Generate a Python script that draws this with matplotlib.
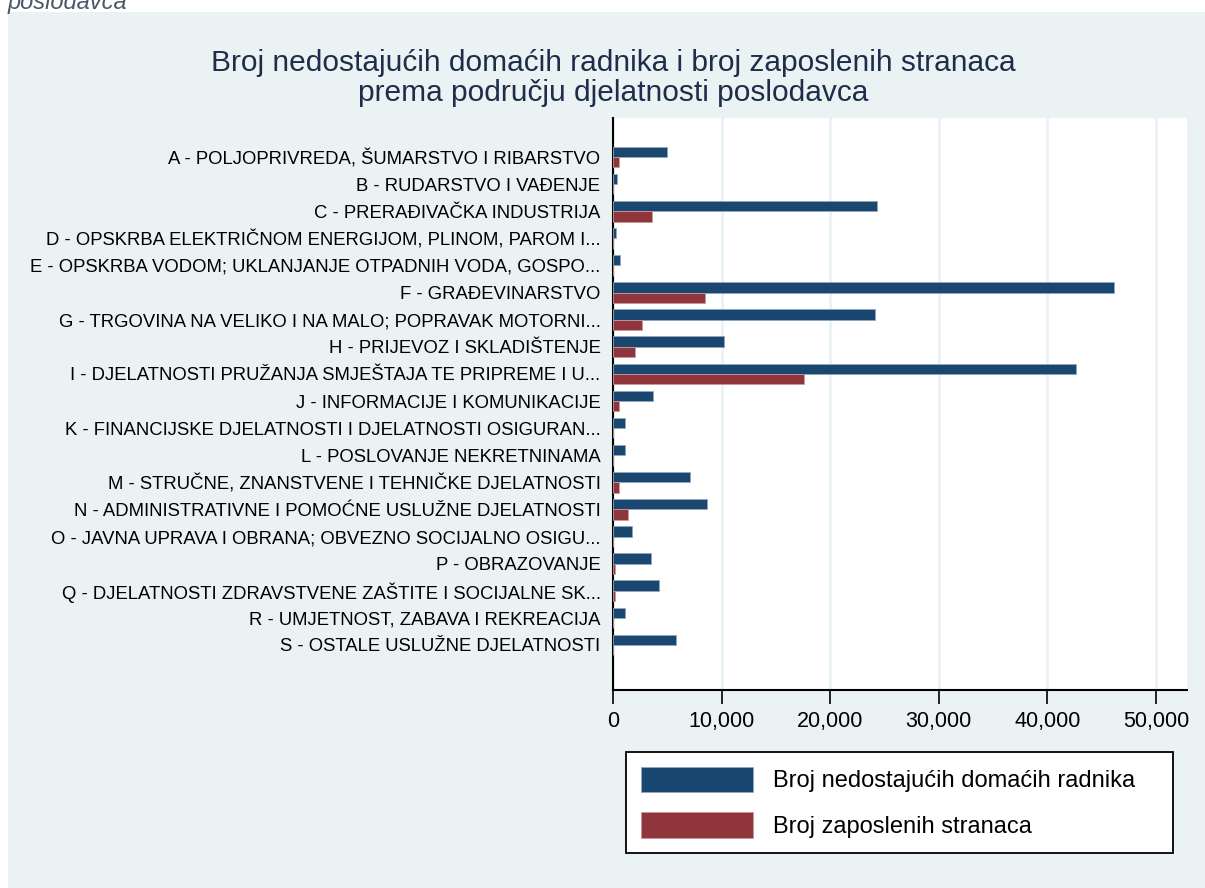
import matplotlib
matplotlib.use("Agg")
import matplotlib.pyplot as plt
from matplotlib.patches import Rectangle
from matplotlib.ticker import FuncFormatter

plt.rcParams['font.family'] = ['Liberation Sans', 'DejaVu Sans']

categories = [
    "A - POLJOPRIVREDA, ŠUMARSTVO I RIBARSTVO",
    "B - RUDARSTVO I VAĐENJE",
    "C - PRERAĐIVAČKA INDUSTRIJA",
    "D - OPSKRBA ELEKTRIČNOM ENERGIJOM, PLINOM, PAROM I...",
    "E - OPSKRBA VODOM; UKLANJANJE OTPADNIH VODA, GOSPO...",
    "F - GRAĐEVINARSTVO",
    "G - TRGOVINA NA VELIKO I NA MALO; POPRAVAK MOTORNI...",
    "H - PRIJEVOZ I SKLADIŠTENJE",
    "I - DJELATNOSTI PRUŽANJA SMJEŠTAJA TE PRIPREME I U...",
    "J - INFORMACIJE I KOMUNIKACIJE",
    "K - FINANCIJSKE DJELATNOSTI I DJELATNOSTI OSIGURAN...",
    "L - POSLOVANJE NEKRETNINAMA",
    "M - STRUČNE, ZNANSTVENE I TEHNIČKE DJELATNOSTI",
    "N - ADMINISTRATIVNE I POMOĆNE USLUŽNE DJELATNOSTI",
    "O - JAVNA UPRAVA I OBRANA; OBVEZNO SOCIJALNO OSIGU...",
    "P - OBRAZOVANJE",
    "Q - DJELATNOSTI ZDRAVSTVENE ZAŠTITE I SOCIJALNE SK...",
    "R - UMJETNOST, ZABAVA I REKREACIJA",
    "S - OSTALE USLUŽNE DJELATNOSTI",
]
nedostajuci = [5000, 330, 24270, 240, 670, 46100, 24160, 10200, 42600, 3700,
               1130, 1130, 7060, 8630, 1720, 3470, 4240, 1130, 5770]
stranci = [580, 0, 3620, 0, 0, 8430, 2680, 2000, 17600, 520,
           0, 0, 520, 1380, 0, 170, 170, 0, 0]

legend_labels = ["Broj nedostajućih domaćih radnika", "Broj zaposlenih stranaca"]
title = "Broj nedostajućih domaćih radnika i broj zaposlenih stranaca\nprema području djelatnosti poslodavca"

bg = "#eaf2f3"
blue = "#1a476f"
red = "#90353b"

fig = plt.figure(figsize=(12.05, 8.88), dpi=100, facecolor="white")
fig.patches.append(Rectangle((8 / 1205, 0), 1 - 8 / 1205, 1 - 12 / 888,
                             transform=fig.transFigure, facecolor=bg,
                             edgecolor="none", zorder=-10))
# caption fragment cut off at the top edge, as in the reference
fig.text(8 / 1205, 1 - 2 / 888, "poslodavca", fontsize=17, style="italic",
         color="#4a5868", ha="left", va="center")

ax = fig.add_axes([613 / 1205, 1 - 690 / 888, (1187 - 613) / 1205, (690 - 118) / 888])
ax.set_facecolor("white")

pos = list(range(len(categories)))
h = 0.38
ax.barh([p - h / 2 for p in pos], nedostajuci, height=h, color=blue,
        edgecolor="#8fa6bb", linewidth=0.6, label=legend_labels[0], zorder=3)
ax.barh([p + h / 2 for p in pos], stranci, height=h, color=red,
        edgecolor="#c79a9d", linewidth=0.6, label=legend_labels[1], zorder=3)

ax.set_yticks(pos)
ax.set_yticklabels(categories, fontsize=13.3)
ax.tick_params(axis="y", length=3, color=bg, pad=6)
ax.set_ylim(18 + 1.66, -1.44)

ax.set_xlim(0, 52860)
ax.set_xticks([0, 10000, 20000, 30000, 40000, 50000])
ax.xaxis.set_major_formatter(FuncFormatter(lambda v, p: f"{int(v):,}"))
ax.tick_params(axis="x", labelsize=15.5, length=10, width=1.2, pad=5)
ax.grid(axis="x", color=bg, linewidth=2, zorder=0)

for s in ["top", "right"]:
    ax.spines[s].set_visible(False)
for s in ["left", "bottom"]:
    ax.spines[s].set_linewidth(1.5)

fig.text(613 / 1205, 1 - 78 / 888, title, fontsize=21.5, color="#1e2d4a",
         ha="center", va="center", linespacing=1.1)

leg = fig.legend(loc="upper left",
                 bbox_to_anchor=(626 / 1205, 1 - 852 / 888, 547 / 1205, 100 / 888),
                 mode="expand", borderaxespad=0,
                 fontsize=17, frameon=True, fancybox=False, edgecolor="black",
                 framealpha=1, handlelength=4.75, handleheight=1.3, borderpad=0.62,
                 labelspacing=0.85, handletextpad=0.85)
leg.get_frame().set_linewidth(1.3)

fig.savefig("out.png", dpi=100, facecolor=fig.get_facecolor())
